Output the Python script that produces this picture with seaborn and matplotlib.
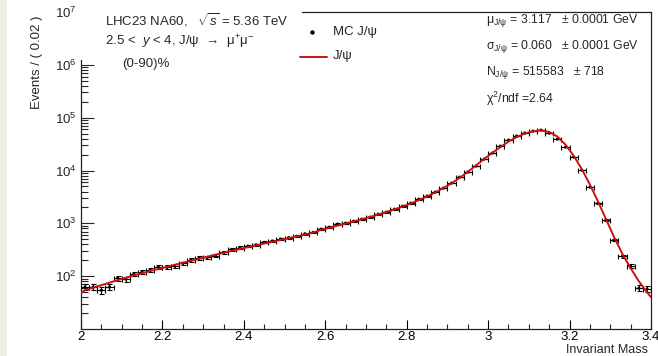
import numpy as np
import pandas as pd
import matplotlib
matplotlib.use("Agg")
import matplotlib.pyplot as plt
import seaborn as sns
from matplotlib.ticker import MultipleLocator, FixedLocator, LogLocator, NullFormatter, FuncFormatter
from matplotlib.patches import Rectangle

# ---------------- data ----------------
mass_min = 2.0
mass_max = 3.4
bin_width = 0.02

mc_counts = [62, 62, 54, 62, 92, 88, 109, 119, 130, 148,
             148, 155, 176, 203, 221, 226, 246, 281, 320, 348,
             370, 393, 437, 464, 505, 536, 570, 633, 673, 776,
             847, 966, 1009, 1101, 1202, 1310, 1494, 1630, 1857, 2118,
             2415, 2873, 3275, 3899, 4642, 5770, 7500, 9330, 12110, 16440,
             21380, 28970, 37650, 44850, 51070, 55720, 58210, 51070, 39350, 27740,
             17950, 10180, 4850, 2415, 1150, 481, 239, 155, 59, 57]

fit_values = [47.6, 54.3, 60.6, 67.5, 75.3, 84.0, 93.7, 103.6, 114.0, 125.5, 136.9,
              149.4, 163.7, 179.4, 195.7, 213.5, 233.1, 254.3, 277.5, 301.4, 327.5,
              354.2, 383.1, 414.3, 448.3, 484.9, 524.5, 567.4, 613.7, 666.5, 756,
              825, 905, 990, 1085, 1195, 1320, 1465, 1635, 1840, 2085,
              2385, 2760, 3230, 3850, 4650, 5730, 7241, 9449, 12440, 16440,
              21540, 27750, 35270, 42920, 49990, 55260, 57230, 53840, 43860, 30810,
              19070, 10630, 5408, 2577, 1175, 536, 261, 141.8, 80.4, 49.8, 40.0]

x_ticks = [2.0, 2.2, 2.4, 2.6, 2.8, 3.0, 3.2, 3.4]
y_ticks = [1e2, 1e3, 1e4, 1e5, 1e6, 1e7]
y_tick_labels = [r"$10^{2}$", r"$10^{3}$", r"$10^{4}$", r"$10^{5}$", r"$10^{6}$", r"$10^{7}$"]

header_lines = [r"LHC23 NA60,   $\sqrt{s}$ = 5.36 TeV",
                r"2.5 <  $y$ < 4, J/ψ  →  μ$^{+}$μ$^{-}$",
                "(0-90)%"]
legend_labels = ["MC J/ψ", "J/ψ"]
stat_lines = [r"μ$_{\mathrm{J/ψ}}$ = 3.117   ± 0.0001 GeV",
              r"σ$_{\mathrm{J/ψ}}$ = 0.060   ± 0.0001 GeV",
              r"N$_{\mathrm{J/ψ}}$ = 515583   ± 718",
              r"χ$^{2}$/ndf =2.64"]

# ---------------- derived tables ----------------
n_bins = len(mc_counts)
centers = mass_min + bin_width * (np.arange(n_bins) + 0.5)
df_mc = pd.DataFrame({"mass": centers, "events": np.array(mc_counts, float)})
df_mc["err"] = np.sqrt(df_mc["events"])
fit_mass = np.concatenate([[mass_min], centers, [mass_max]])
df_fit = pd.DataFrame({"mass": fit_mass, "events": fit_values})

# ---------------- style ----------------
sns.set_theme(style="ticks")
plt.rcParams["font.family"] = ["Liberation Sans", "DejaVu Sans"]
plt.rcParams["mathtext.fontset"] = "custom"
plt.rcParams["mathtext.rm"] = "Liberation Sans"
plt.rcParams["mathtext.it"] = "Liberation Sans:italic"
plt.rcParams["mathtext.bf"] = "Liberation Sans:bold"
plt.rcParams["mathtext.sf"] = "Liberation Sans"

W, H = 658, 356
fig = plt.figure(figsize=(W / 100, H / 100), dpi=100)
fig.patch.set_facecolor("white")
ax = fig.add_axes([81 / W, 1 - 329 / H, 570 / W, 317 / H])

# left grey strip
fig.patches.append(Rectangle((0, 0), 7 / W, 1, transform=fig.transFigure,
                             facecolor="#eceee8", edgecolor="none", zorder=0))

ax.set_yscale("log")
ax.set_xlim(mass_min, mass_max)
ax.set_ylim(10, 1e7)

ax.errorbar(df_mc["mass"], df_mc["events"], xerr=bin_width / 2, yerr=df_mc["err"],
            fmt="none", ecolor="black", elinewidth=0.8, capsize=1.8, capthick=0.8, zorder=3)
sns.scatterplot(data=df_mc, x="mass", y="events", ax=ax, color="black", s=5,
                edgecolor="none", zorder=4, legend=False)
sns.lineplot(data=df_fit, x="mass", y="events", ax=ax, color="#cc1111", linewidth=1.4,
             zorder=5, legend=False)

ax.set_xlabel("")
ax.set_ylabel("")

# ticks
ax.xaxis.set_major_locator(FixedLocator(x_ticks))
ax.xaxis.set_minor_locator(MultipleLocator(0.05))
ax.xaxis.set_major_formatter(FuncFormatter(lambda v, p: f"{v:g}"))
ax.yaxis.set_major_locator(FixedLocator(y_ticks))
ax.set_yticklabels(y_tick_labels)
ax.yaxis.set_minor_locator(LogLocator(base=10, subs=np.arange(2, 10), numticks=20))
ax.yaxis.set_minor_formatter(NullFormatter())
ax.tick_params(axis="x", which="major", direction="in", length=6.5, width=0.8,
               labelsize=9.5, pad=1.5, colors="black")
ax.tick_params(axis="x", which="minor", direction="in", length=3.3, width=0.8)
ax.tick_params(axis="y", which="major", direction="in", length=9.5, width=0.8,
               labelsize=9.5, pad=3)
ax.tick_params(axis="y", which="minor", direction="in", length=5, width=0.8)
ax.tick_params(top=False, right=False, which="both")

for sp in ax.spines.values():
    sp.set_color("#222222")
    sp.set_linewidth(0.9)
    sp.set_visible(True)

# white legend pad covering the top frame on the left
fig.patches.append(Rectangle((80 / W, 1 - 60 / H), (302 - 80) / W, 58 / H,
                             transform=fig.transFigure, facecolor="white",
                             edgecolor="none", zorder=10))

def fx(px):
    return px / W

def fy(py):
    return 1 - py / H

fs = 9.5
fig.text(fx(105), fy(20), header_lines[0], fontsize=fs, va="center", ha="left", zorder=11)
fig.text(fx(105), fy(42), header_lines[1], fontsize=fs, va="center", ha="left", zorder=11)
fig.text(fx(122), fy(64), header_lines[2], fontsize=fs, va="center", ha="left", zorder=11)

# legend entries
fig.add_artist(plt.Line2D([fx(312)], [fy(32)], marker="o", markersize=2.2,
                          color="black", linestyle="none", zorder=11))
fig.text(fx(333), fy(32), legend_labels[0], fontsize=fs, va="center", ha="left", zorder=11)
fig.add_artist(plt.Line2D([fx(300), fx(327)], [fy(57), fy(57)], color="#cc1111",
                          linewidth=1.4, zorder=11))
fig.text(fx(333), fy(56), legend_labels[1], fontsize=fs, va="center", ha="left", zorder=11)

# stats box text
for txt, py in zip(stat_lines, [21, 47, 73, 99]):
    fig.text(fx(486), fy(py), txt, fontsize=8.8, va="center", ha="left", zorder=11)

# axis titles
fig.text(fx(37), fy(62), "Events / ( 0.02 )", rotation=90, fontsize=9.5,
         va="center", ha="center")
fig.text(fx(648), fy(350), "Invariant Mass", fontsize=9, va="center", ha="right")

fig.savefig("out.png", dpi=100)
